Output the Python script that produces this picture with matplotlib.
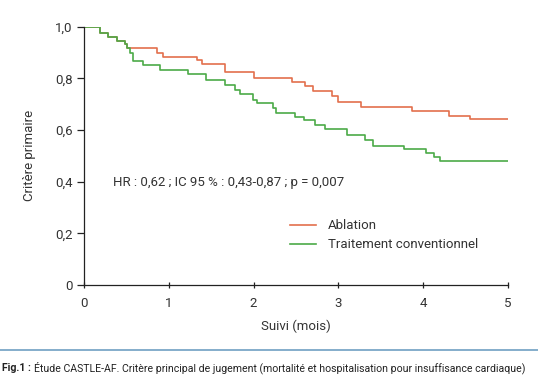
import matplotlib
matplotlib.use("Agg")
import matplotlib.pyplot as plt

plt.rcParams['font.family'] = ['Roboto', 'DejaVu Sans']

# Kaplan-Meier steps (months, probability)
abl_t = [0, 0.19, 0.28, 0.385, 0.48, 0.51, 0.86, 0.93, 1.33, 1.39, 1.66, 2.0,
         2.45, 2.61, 2.70, 2.92, 3.0, 3.27, 3.87, 4.30, 4.55, 5.0]
abl_s = [1.0, 0.976, 0.960, 0.947, 0.933, 0.917, 0.898, 0.883, 0.872, 0.857, 0.827, 0.801,
         0.788, 0.769, 0.753, 0.733, 0.710, 0.691, 0.674, 0.655, 0.642, 0.642]

conv_t = [0, 0.19, 0.28, 0.385, 0.48, 0.51, 0.54, 0.58, 0.70, 0.90, 1.23, 1.44, 1.66,
          1.78, 1.84, 1.99, 2.04, 2.23, 2.27, 2.49, 2.59, 2.72, 2.84, 3.10, 3.31,
          3.41, 3.77, 4.03, 4.13, 4.20, 5.0]
conv_s = [1.0, 0.976, 0.960, 0.947, 0.933, 0.917, 0.898, 0.869, 0.853, 0.833, 0.818, 0.795, 0.775,
          0.756, 0.740, 0.717, 0.704, 0.685, 0.666, 0.650, 0.640, 0.620, 0.603, 0.581, 0.562,
          0.539, 0.528, 0.510, 0.495, 0.482, 0.482]

xticks = [0, 1, 2, 3, 4, 5]
yticks = [0, 0.2, 0.4, 0.6, 0.8, 1.0]
ylabels = ['0', '0,2', '0,4', '0,6', '0,8', '1,0']

orange = '#e3704d'
green = '#4caa48'
txt = '#333333'

fig = plt.figure(figsize=(5.38, 3.84), dpi=100)
ax = fig.add_axes([0.156, 0.258, 0.788, 0.672])

ax.step(abl_t, abl_s, where='post', color=orange, lw=1.2, label='Ablation')
ax.step(conv_t, conv_s, where='post', color=green, lw=1.2, label='Traitement conventionnel')

ax.set_xlim(0, 5)
ax.set_ylim(0, 1)
for s in ['top', 'right']:
    ax.spines[s].set_visible(False)
for s in ['left', 'bottom']:
    ax.spines[s].set_color('#222222')
    ax.spines[s].set_linewidth(0.9)
ax.spines['left'].set_bounds(0, 1)
ax.spines['bottom'].set_bounds(0, 5)

ax.set_xticks(xticks)
ax.set_xticklabels([str(v) for v in xticks])
ax.set_yticks(yticks)
ax.set_yticklabels(ylabels)
ax.tick_params(axis='x', direction='inout', length=5, width=0.9, pad=6,
               labelsize=9.5, labelcolor=txt, color='#222222')
ax.tick_params(axis='y', direction='out', length=5, width=0.9, pad=3,
               labelsize=9.5, labelcolor=txt, color='#222222')

ax.set_xlabel('Suivi (mois)', fontsize=9.5, color=txt, labelpad=7)
ax.set_ylabel('Critère primaire', fontsize=9.5, color=txt, labelpad=14)

ax.text(0.34, 0.395, 'HR : 0,62 ; IC 95 % : 0,43-0,87 ; p = 0,007',
        fontsize=9.5, color=txt, va='center', ha='left')

ax.legend(loc='upper left', bbox_to_anchor=(0.458, 0.30), frameon=False,
          fontsize=9.5, handlelength=2.0, handletextpad=0.9, labelspacing=0.45,
          labelcolor=txt)

# separator line and caption
fig.add_artist(plt.Line2D([0, 1], [1 - 350 / 384, 1 - 350 / 384],
                          color='#6f9fc2', lw=1.2, transform=fig.transFigure))
cap_y = 1 - 368 / 384
t1 = fig.text(2 / 538, cap_y, 'Fig.1 : ', fontsize=7.6, fontweight='bold',
              color='#222222', va='center', ha='left')
r = fig.canvas.get_renderer()
x1 = t1.get_window_extent(r).x1 / (fig.get_figwidth() * fig.dpi)
fig.text(x1, cap_y,
         'Étude CASTLE-AF. Critère principal de jugement (mortalité et hospitalisation pour insuffisance cardiaque)',
         fontsize=7.6, color='#222222', va='center', ha='left')

fig.savefig('out.png', dpi=100)
